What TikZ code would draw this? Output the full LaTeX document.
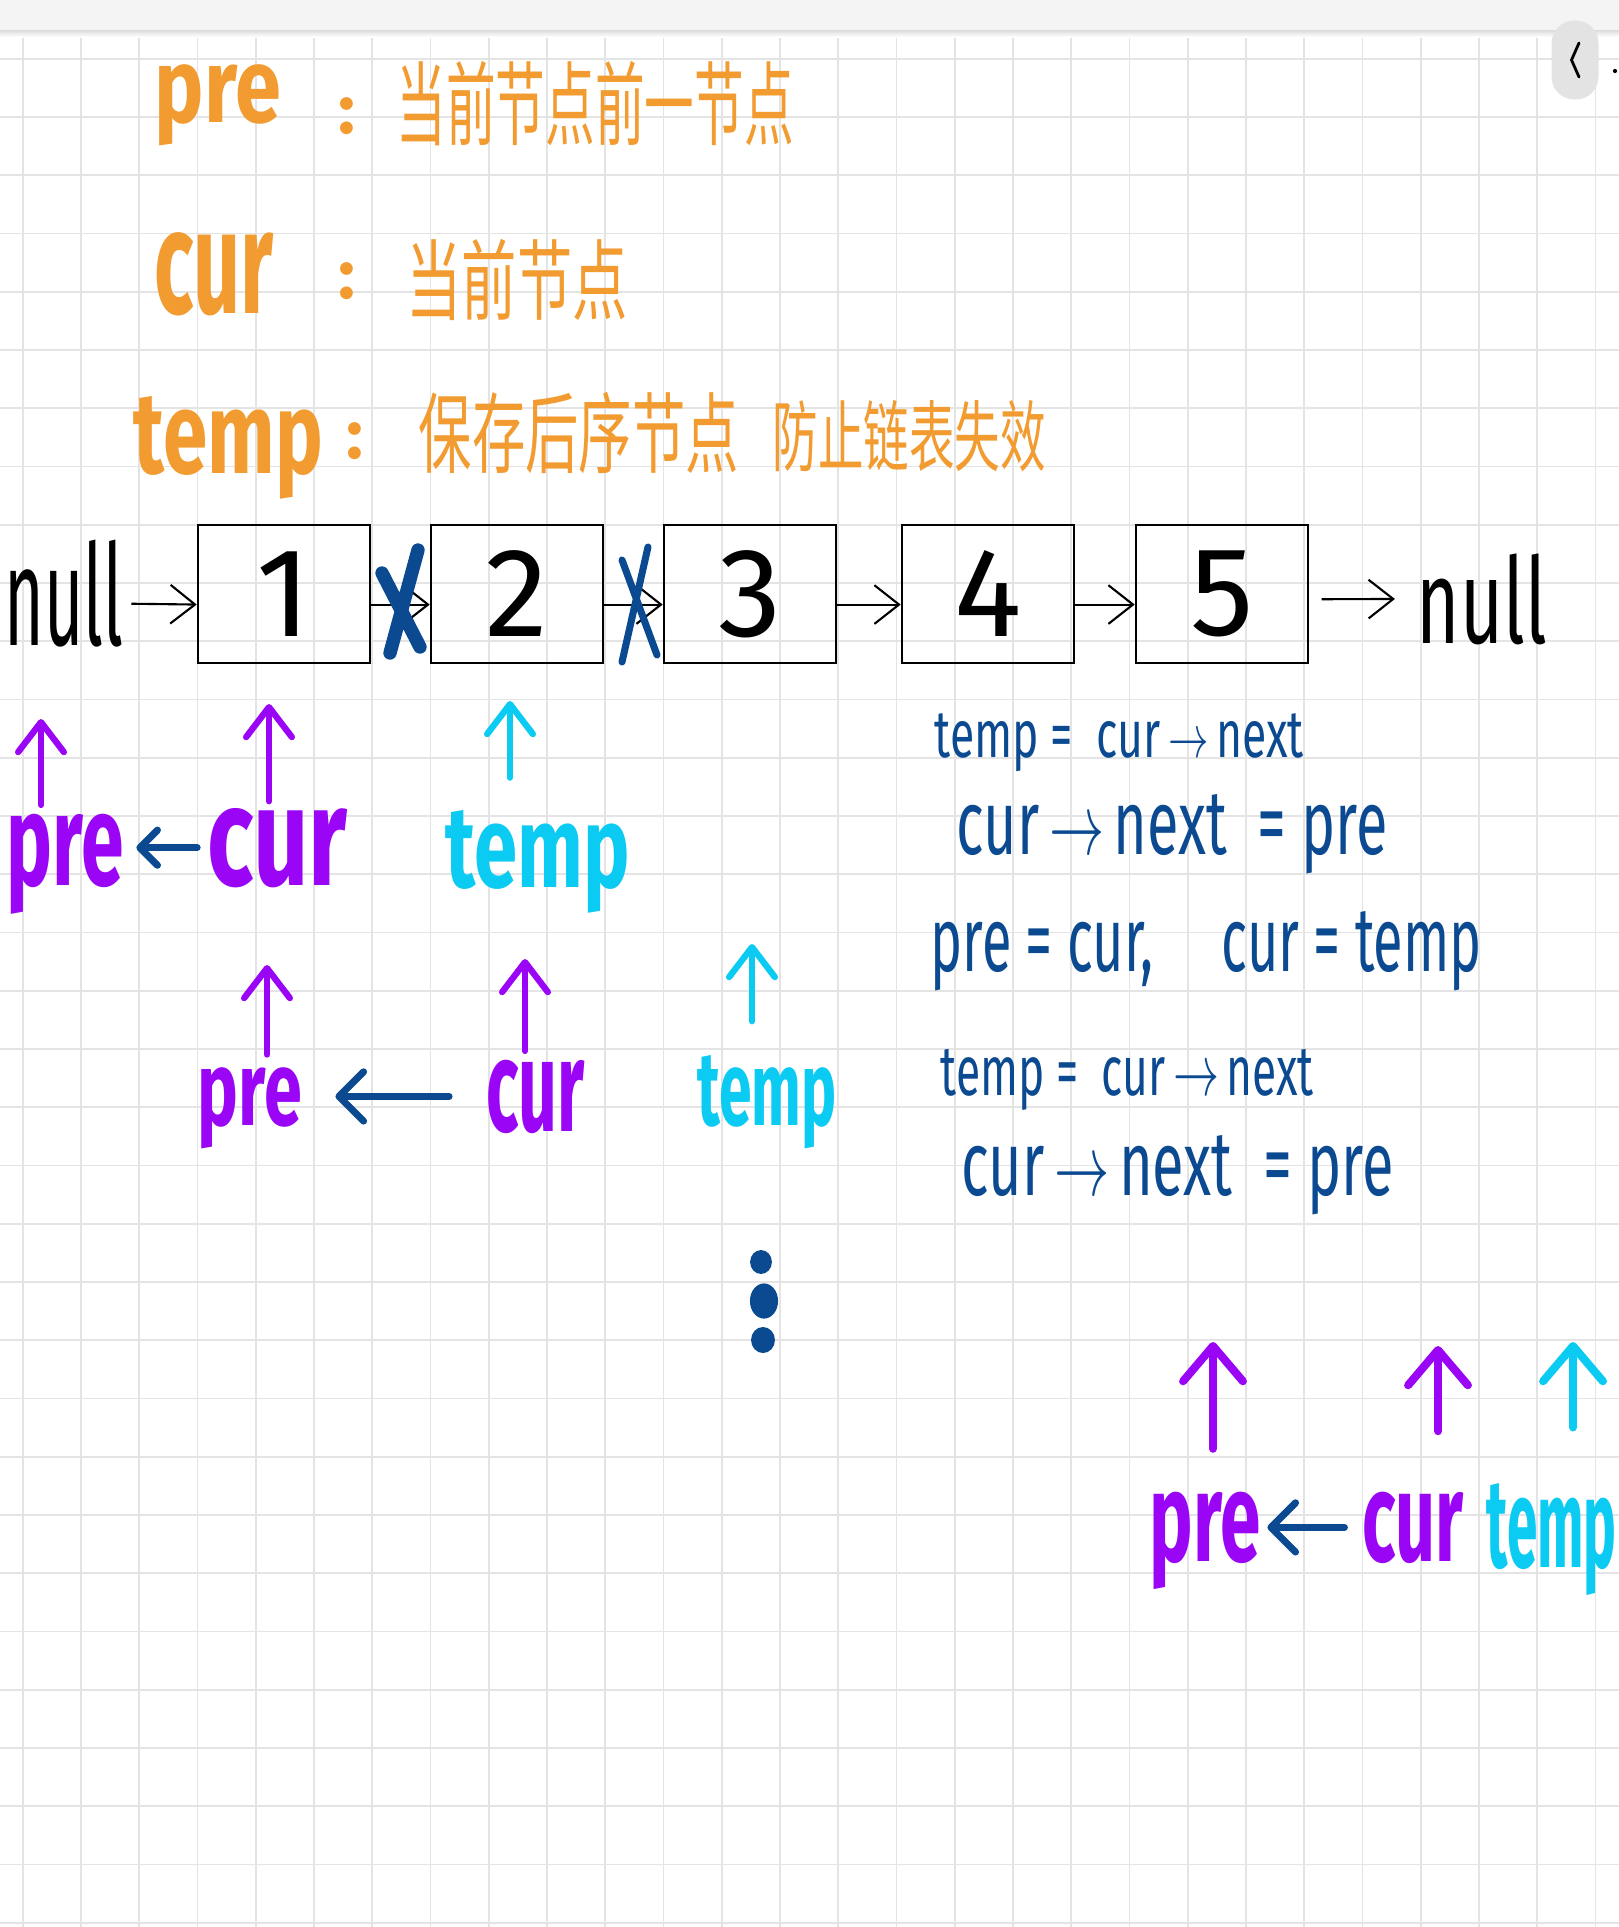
\documentclass[tikz,border=0pt]{standalone}
\usepackage{fontspec}
\setmainfont{Fira Sans}
\newfontfamily\cjk{Noto Sans CJK SC}
\usetikzlibrary{arrows.meta}
\definecolor{penorange}{HTML}{F29B30}
\definecolor{penpurple}{HTML}{9A05F5}
\definecolor{pencyan}{HTML}{0BCBF2}
\definecolor{penblue}{HTML}{0B4A90}
\definecolor{gridgray}{HTML}{E4E4E4}
\definecolor{barbg}{HTML}{F4F4F4}
\definecolor{tabgray}{HTML}{E3E3E3}
\newlength\pxu
\setlength\pxu{0.01cm}
\newcommand{\hand}[3]{\fontsize{#1}{#1}\selectfont\resizebox{#2\pxu}{\height}{#3}}
\newcommand{\nx}{\,$\rightarrow$\,}

\begin{document}
\begin{tikzpicture}[x=0.01cm,y=-0.01cm,
  gridln/.style={gridgray,line width=0.5pt},
  box/.style={draw=black,line width=0.7pt,minimum width=1.72cm,minimum height=1.38cm,inner sep=0pt,font=\fontsize{36}{40}\selectfont},
  note/.style={penorange,inner sep=0pt,anchor=base west,font=\bfseries},
  cn/.style={penorange,inner sep=0pt,anchor=west},
  nul/.style={black,inner sep=0pt,anchor=base west},
  link/.style={-{Straight Barb[length=7pt,width=11pt]},line width=0.6pt,black},
  xmark/.style={penblue,line cap=round},
  ptrlab/.style={inner sep=0pt,anchor=base west,font=\bfseries},
  ptr/.style={-{Straight Barb[length=8.5pt,width=13pt,round]},line width=1.8pt,line cap=round},
  bigptr/.style={-{Straight Barb[length=10pt,width=17pt,round]},line width=2.3pt,line cap=round},
  backarr/.style={-{Straight Barb[length=7pt,width=14pt,round]},line width=2pt,line cap=round,penblue},
  eq/.style={penblue,inner sep=0pt,anchor=base west}]
\useasboundingbox (0,0) rectangle (1619,1927);
\fill[white] (0,0) rectangle (1619,1927);
\foreach \i in {0,...,27} \draw[gridln] ({22.7+58.25*\i},30) -- ({22.7+58.25*\i},1927);
\foreach \j in {0,...,32} \draw[gridln] (0,{58.7+58.25*\j}) -- (1619,{58.7+58.25*\j});
\fill[barbg] (0,0) rectangle (1619,30);
\shade[top color=black!14,bottom color=white] (0,30) rectangle (1619,37);
\node[fill=tabgray,rounded corners=6.5pt,minimum width=0.47cm,minimum height=0.79cm,inner sep=0pt] (tab) at (1575,60) {};
\draw[line width=0.8pt,line cap=round,line join=round] (1579,43) -- (1571.5,60) -- (1579,77);
\fill (1615,71) circle (0.6pt);

\node[note] (opre) at (154,123) {\hand{30}{126}{pre}};
\node[note] (ocol1) at (338,133) {\fontsize{20}{20}\selectfont :};
\node[note] (ocur) at (154,313) {\hand{42}{119}{cur}};
\node[note] (ocol2) at (338,298) {\fontsize{20}{20}\selectfont :};
\node[note] (otemp) at (133,473) {\hand{33}{189}{temp}};
\node[note] (ocol3) at (346,458) {\fontsize{20}{20}\selectfont :};
\node[cn] (cn1) at (396,104) {\hand{26}{397}{\cjk 当前节点前一节点}};
\node[cn] (cn2) at (406,280) {\hand{25}{221}{\cjk 当前节点}};
\node[cn] (cn3a) at (418,433) {\hand{25}{320}{\cjk 保存后序节点}};
\node[cn] (cn3b) at (772,436) {\hand{22}{273}{\cjk 防止链表失效}};

\node[nul] (nullL) at (4,645) {\hand{40}{119}{null}};
\foreach \k/\x in {1/284,2/517,3/750,4/988,5/1222}
  \node[box] (b\k) at (\x,594) {\k};
\node[nul] (nullR) at (1416,643) {\hand{34}{130}{null}};
\draw[link,shorten <=2pt] ([yshift=-3pt]nullL.east) -- ([yshift=-3pt]b1.west);
\foreach \a/\b in {b1/b2,b2/b3,b3/b4,b4/b5}
  \draw[link] ([yshift=-3pt]\a.east) -- ([yshift=-3pt]\b.west);
\draw[link,shorten <=3.5pt,shorten >=6pt] ([yshift=-1.5pt]b5.east) -- (nullR.west);
\draw[xmark,line width=3.8pt] (418,550) -- (390,653) (382,573) -- (420,647);
\draw[xmark,line width=2pt] (648,547) -- (622,662) (622,560) -- (657,655);

\node[ptrlab,penpurple] (pre1) at (6,885) {\hand{37}{117}{pre}};
\node[ptrlab,penpurple] (cur1) at (207,885) {\hand{40}{140}{cur}};
\node[ptrlab,pencyan] (temp1) at (445,887) {\hand{33}{184}{temp}};
\node[ptrlab,penpurple] (pre2) at (197,1125) {\hand{30}{104}{pre}};
\node[ptrlab,penpurple] (cur2) at (486,1131) {\hand{37}{98}{cur}};
\node[ptrlab,pencyan] (temp2) at (697,1125) {\hand{30}{139}{temp}};
\node[ptrlab,penpurple] (pre3) at (1149,1561) {\hand{36}{111}{pre}};
\node[ptrlab,penpurple] (cur3) at (1362,1561) {\hand{36}{101}{cur}};
\node[ptrlab,pencyan] (temp3) at (1486,1567) {\hand{36}{130}{temp}};
\coordinate (tp1) at (41,719);
\coordinate (tc1) at (269,704);
\coordinate (tt1) at (510,701);
\coordinate (tp2) at (267,965);
\coordinate (tc2) at (525,959);
\coordinate (tt2) at (752,944);
\coordinate (tp3) at (1213,1342);
\coordinate (tc3) at (1438,1346);
\coordinate (tt3) at (1573,1342);
\foreach \n/\t/\g/\c in {pre1/tp1/2.3/penpurple,cur1/tc1/1.7/penpurple,temp1/tt1/9/pencyan,pre2/tp2/3.4/penpurple,cur2/tc2/2.3/penpurple,temp2/tt2/9.4/pencyan}
  \draw[ptr,\c,shorten <=\g pt] (\n.north -| \t) -- (\t);
\foreach \n/\t/\g/\c in {pre3/tp3/12/penpurple,cur3/tc3/17/penpurple,temp3/tt3/15.6/pencyan}
  \draw[bigptr,\c,shorten <=\g pt] (\n.north -| \t) -- (\t);
\draw[backarr,-{Straight Barb[length=5pt,width=10pt,round]},shorten <=2.8pt,shorten >=3.4pt] (cur1.west) -- (cur1.west -| pre1.east);
\draw[backarr,shorten <=10.5pt,shorten >=9.4pt] (cur2.west) -- (cur2.west -| pre2.east);
\draw[backarr,shorten <=5pt,shorten >=1.7pt] (cur3.west) -- (cur3.west -| pre3.east);

\node[eq] (eq1) at (934,757) {\hand{19}{369}{temp = \ cur\nx next}};
\node[eq] (eq2) at (956,854) {\hand{26}{431}{cur\nx next \ = pre}};
\node[eq] (eq3) at (930,971) {\hand{26}{551}{pre = cur, \quad cur = temp}};
\node[eq] (eq4) at (940,1095) {\hand{20}{373}{temp = \ cur\nx next}};
\node[eq] (eq5) at (961,1195) {\hand{26}{432}{cur\nx next \ = pre}};
\fill[penblue] (761,1262) ellipse [x radius=3.1pt,y radius=3.4pt];
\fill[penblue] (764,1301) ellipse [x radius=4pt,y radius=5pt];
\fill[penblue] (763,1340) ellipse [x radius=3.4pt,y radius=3.7pt];
\end{tikzpicture}
\end{document}
